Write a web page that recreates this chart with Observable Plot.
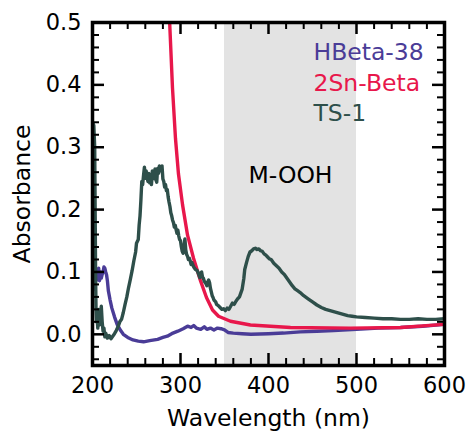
<!DOCTYPE html>
<html><head><meta charset="utf-8">
<script src="https://cdn.jsdelivr.net/npm/d3@7"></script>
<script src="https://cdn.jsdelivr.net/npm/@observablehq/plot@0.6"></script>
<style>body{margin:0;background:#fff;} #chart svg{display:block;}</style>
</head><body><div id="chart"></div>
<script>
const seriesNames = ["HBeta-38", "2Sn-Beta", "TS-1"];
const seriesColors = ["#4a3c97", "#e8174b", "#2e4f4a"];

const hbeta = [
  [200,0.100],[200.6,0.116],[201.2,0.072],[201.8,0.112],[202.5,0.082],[203.2,0.108],[204,0.086],[205,0.104],
  [206,0.088],[207,0.106],[208,0.086],[209,0.100],[210,0.090],[211,0.096],[212,0.100],[213,0.108],[214,0.106],
  [215,0.100],[216,0.095],[217,0.085],[218,0.070],[220,0.055],[222,0.042],[225,0.028],[228,0.016],[232,0.006],
  [235,0.000],[240,-0.005],[246,-0.009],[252,-0.011],[258,-0.012],[265,-0.010],[274,-0.008],[280,-0.005],
  [285,-0.003],[290,0.001],[297,0.005],[303,0.009],[308,0.013],[312,0.011],[315,0.014],[318,0.010],[323,0.008],
  [327,0.012],[330,0.008],[334,0.010],[338,0.007],[342,0.010],[346,0.009],[350,0.007],[354,0.003],[360,0.002],
  [370,0.001],[380,0.000],[400,0.001],[417,0.002],[436,0.004],[455,0.005],[474,0.006],[500,0.008],[525,0.010],
  [550,0.011],[575,0.013],[600,0.016]
];

const sn = [
  [284,0.66],[287.5,0.506],[290.9,0.395],[294.3,0.314],[297.7,0.257],[302.3,0.208],[308,0.159],[314.8,0.122],
  [322.7,0.086],[329.5,0.059],[336.4,0.039],[343.2,0.029],[356.8,0.021],[379.5,0.015],[425,0.011],[493,0.010],
  [550,0.011],[600,0.016]
];

const ts1 = [
  [200,0.340],[201.5,0.335],[202.5,0.30],[203,0.20],[203.5,0.10],[204,0.04],[204.5,0.02],[205,0.035],[206,0.01],
  [207,0.04],[208,0.015],[209,0.03],[210,0.045],[211,0.02],[212,0.005],[213,0.01],[214,-0.004],[215,0.002],[217,-0.006],
  [219,-0.002],[221,-0.007],[223,-0.003],[225,0.001],[227,0.006],[229,0.012],[231,0.02],[233,0.024],[235,0.035],
  [237,0.048],[239,0.06],[241,0.075],[243,0.088],[245,0.102],[247,0.118],[249,0.132],[250,0.146],[252,0.152],
  [253,0.175],[254,0.19],[255,0.215],[256,0.245],[257,0.24],[258,0.255],[259,0.268],[260,0.25],[261,0.262],
  [262,0.252],[263,0.245],[264,0.258],[265,0.243],[266,0.25],[267,0.24],[268,0.262],[269,0.255],[270,0.25],
  [271,0.265],[272,0.248],[273,0.244],[274,0.266],[275,0.258],[276,0.27],[277,0.262],[278,0.268],[279,0.27],
  [280,0.249],[281,0.245],[282,0.236],[283,0.24],[284,0.23],[285,0.232],[286,0.22],[287,0.212],[288,0.205],
  [289,0.195],[290,0.19],[291,0.183],[292,0.179],[293,0.172],[294,0.175],[295,0.168],[296,0.162],[297,0.167],
  [298,0.158],[299,0.152],[300,0.150],[301,0.14],[302,0.133],[303,0.13],[304,0.14],[305,0.153],[306,0.135],
  [307,0.128],[308,0.125],[309,0.12],[310,0.122],[311,0.118],[312,0.112],[313,0.115],[315,0.108],[317,0.104],
  [319,0.102],[321,0.095],[322,0.091],[323,0.098],[324,0.1],[325,0.092],[326,0.09],[327,0.085],[328,0.083],
  [329,0.081],[330,0.078],[331,0.084],[332,0.087],[333,0.083],[334,0.074],[335,0.068],[336,0.062],[337,0.059],
  [338,0.055],[340,0.052],[341,0.048],[343,0.046],[345,0.043],[347,0.04],[349,0.041],[351,0.038],[353,0.042],
  [355,0.04],[357,0.045],[359,0.05],[361,0.048],[363,0.053],[365,0.057],[367,0.06],[369,0.068],[370,0.072],
  [372,0.09],[373,0.104],[375,0.115],[377,0.125],[379,0.132],[381,0.134],[383,0.137],[385,0.138],[387,0.136],
  [389,0.137],[391,0.134],[393,0.133],[395,0.129],[397,0.127],[399,0.124],[401,0.121],[403,0.12],[406,0.114],
  [409,0.11],[412,0.106],[415,0.1],[418,0.096],[421,0.09],[424,0.084],[427,0.078],[430,0.073],[433,0.07],
  [436,0.067],[440,0.062],[445,0.057],[450,0.052],[455,0.047],[460,0.043],[465,0.04],[470,0.038],[475,0.036],
  [480,0.034],[485,0.032],[490,0.03],[495,0.029],[500,0.028],[510,0.027],[520,0.026],[530,0.025],[540,0.025],
  [550,0.024],[560,0.024],[570,0.025],[580,0.024],[590,0.024],[600,0.025]
];

const xMajor = [200, 300, 400, 500, 600];
const xMinor = [220,240,260,280,320,340,360,380,420,440,460,480,520,540,560,580];
const yMajor = [0.0, 0.1, 0.2, 0.3, 0.4, 0.5];
const yMinor = [-0.04,-0.02,0.02,0.04,0.06,0.08,0.12,0.14,0.16,0.18,0.22,0.24,0.26,0.28,0.32,0.34,0.36,0.38,0.42,0.44,0.46,0.48];
const region = [{x1: 350, x2: 500, label: "M-OOH"}];
const xLabel = "Wavelength (nm)";
const yLabel = "Absorbance";

const W = 469, H = 432, mL = 92, mR = 25, mT = 22, mB = 67;
const ph = H - mT - mB, pw = W - mL - mR;
const FS = 23.5, TFS = 22.5;
const majorLen = 12, minorLen = 7;

const series = [hbeta, sn, ts1];

const chart = Plot.plot({
  width: W, height: H,
  marginLeft: mL, marginRight: mR, marginTop: mT, marginBottom: mB,
  style: {fontFamily: "DejaVu Sans", color: "black", background: "white"},
  x: {domain: [200, 600]},
  y: {domain: [-0.05, 0.5]},
  marks: [
    Plot.rect(region, {x1: "x1", x2: "x2", fill: "#e3e3e3"}),
    ...series.map((s, i) => Plot.line(s, {x: d => d[0], y: d => d[1], stroke: seriesColors[i], strokeWidth: 3.4, clip: true, strokeLinejoin: "round"})),
    Plot.text(region, {x: d => (d.x1 + d.x2) / 2, text: "label", frameAnchor: "top", lineAnchor: "middle", dy: 153, fontSize: FS, fill: "black"}),
    ...seriesNames.map((n, i) => Plot.text([n], {frameAnchor: "top-right", textAnchor: "start", lineAnchor: "middle", dx: -131, dy: 30 + i * 30.7, fontSize: FS, fill: seriesColors[i]})),
    // inward ticks on all sides
    Plot.tickX(xMajor, {x: d => d, insetTop: ph - majorLen, stroke: "black", strokeWidth: 2.5}),
    Plot.tickX(xMajor, {x: d => d, insetBottom: ph - majorLen, stroke: "black", strokeWidth: 2.5}),
    Plot.tickX(xMinor, {x: d => d, insetTop: ph - minorLen, stroke: "black", strokeWidth: 2}),
    Plot.tickX(xMinor, {x: d => d, insetBottom: ph - minorLen, stroke: "black", strokeWidth: 2}),
    Plot.tickY(yMajor, {y: d => d, insetRight: pw - majorLen, stroke: "black", strokeWidth: 2.5}),
    Plot.tickY(yMajor, {y: d => d, insetLeft: pw - majorLen, stroke: "black", strokeWidth: 2.5}),
    Plot.tickY(yMinor, {y: d => d, insetRight: pw - minorLen, stroke: "black", strokeWidth: 2}),
    Plot.tickY(yMinor, {y: d => d, insetLeft: pw - minorLen, stroke: "black", strokeWidth: 2}),
    Plot.frame({stroke: "black", strokeWidth: 3.5}),
    Plot.axisX(xMajor, {tickSize: 0, tickPadding: 12, fontSize: TFS, label: null, fill: "black"}),
    Plot.axisY(yMajor, {tickSize: 0, tickPadding: 11, fontSize: TFS, label: null, fill: "black", tickFormat: d3.format(".1f")}),
    Plot.text([xLabel], {frameAnchor: "bottom", lineAnchor: "middle", dy: 53, fontSize: FS, fill: "black"}),
    Plot.text([yLabel], {frameAnchor: "left", textAnchor: "middle", lineAnchor: "middle", dx: -70, rotate: -90, fontSize: FS, fill: "black"})
  ]
});
document.getElementById("chart").appendChild(chart);
</script>
</body></html>
